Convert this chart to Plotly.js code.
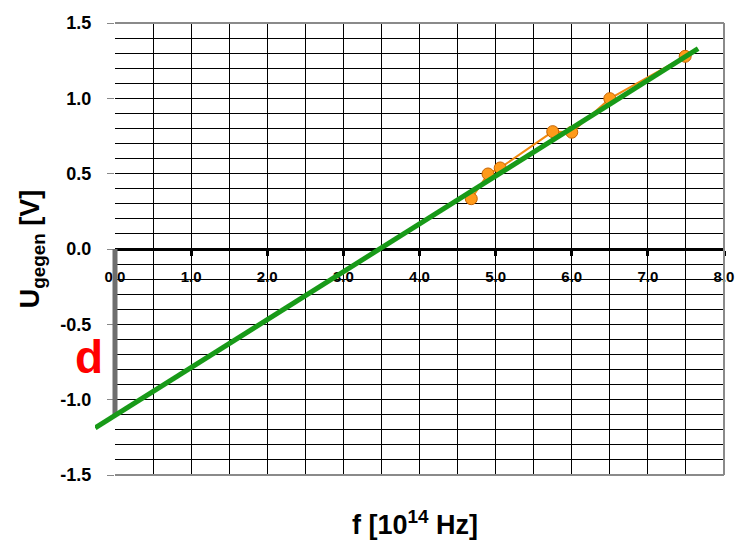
<!DOCTYPE html>
<html>
<head>
<meta charset="utf-8">
<script src="https://cdn.plot.ly/plotly-3.0.1.min.js"></script>
<style>html,body{margin:0;padding:0;background:#fff;}</style>
</head>
<body>
<div id="chart" style="width:749px;height:548px;"></div>
<script>
// Measured points: frequency [10^14 Hz] and stopping voltage [V]
const freq = [4.68, 4.90, 5.06, 5.75, 6.00, 6.50, 7.49];
const uGegen = [0.334, 0.498, 0.538, 0.779, 0.775, 0.998, 1.279];
// Fitted regression line end points
const fitX = [-0.26, 7.66];
const fitY = [-1.187, 1.33];
// Intercept marker "d"
const interceptX = [0, 0];
const interceptY = [0, -1.10];
const xTickVals = [0, 1, 2, 3, 4, 5, 6, 7, 8];
const xTickText = ['0.0', '1.0', '2.0', '3.0', '4.0', '5.0', '6.0', '7.0', '8.0'];
const yTickVals = [-1.5, -1.0, -0.5, 0.0, 0.5, 1.0, 1.5];
const yTickText = ['-1.5', '-1.0', '-0.5', '0.0', '0.5', '1.0', '1.5'];

const FONT = 'Arial, "Liberation Sans", sans-serif';
const W = 749, H = 548, ML = 95, MR = 25, MT = 23, MB = 73;
const plotW = W - ML - MR;
const shift = 20; // px the main x-axis starts to the right of the free area
const xDomStart = shift / plotW;
const pxPerUnit = (plotW - shift) / 8;

const traces = [
  {
    x: freq, y: uGegen, type: 'scatter', mode: 'lines+markers',
    line: {color: '#f08a10', width: 2},
    marker: {color: '#ff9a1a', size: 12, line: {color: '#c86400', width: 1}},
    xaxis: 'x', yaxis: 'y', hoverinfo: 'x+y'
  },
  {
    x: interceptX, y: interceptY, type: 'scatter', mode: 'lines',
    line: {color: '#6e6e6e', width: 5},
    xaxis: 'x2', yaxis: 'y2', hoverinfo: 'skip'
  },
  {
    x: fitX, y: fitY, type: 'scatter', mode: 'lines',
    line: {color: '#189a18', width: 5},
    xaxis: 'x2', yaxis: 'y2', hoverinfo: 'skip'
  }
];

const borderLine = {color: '#8a8a8a', width: 2};

const layout = {
  width: W, height: H,
  margin: {l: ML, r: MR, t: MT, b: MB, pad: 0},
  paper_bgcolor: '#ffffff',
  plot_bgcolor: 'rgba(0,0,0,0)',
  showlegend: false,
  font: {family: FONT, color: '#000'},
  xaxis: {
    domain: [xDomStart, 1],
    range: [0, 8],
    anchor: 'free', position: 0.5,
    tickmode: 'array', tickvals: xTickVals, ticktext: xTickText,
    tickfont: {family: FONT, size: 15, weight: 'bold', color: '#000'},
    ticks: 'outside', ticklen: 5, tickwidth: 3, tickcolor: '#000',
    ticklabelstandoff: 8,
    showline: true, linecolor: '#000', linewidth: 3,
    showgrid: true, gridcolor: '#000', gridwidth: 1,
    minor: {dtick: 0.5, tick0: 0, showgrid: true, gridcolor: '#000', gridwidth: 1},
    zeroline: false, fixedrange: true
  },
  yaxis: {
    domain: [0, 1],
    range: [-1.5, 1.5],
    anchor: 'x',
    tickmode: 'array', tickvals: yTickVals, ticktext: yTickText,
    tickfont: {family: FONT, size: 18, weight: 'bold', color: '#000'},
    ticks: 'outside', ticklen: 7, tickwidth: 1, tickcolor: '#888',
    ticklabelstandoff: 12,
    showline: false,
    showgrid: true, gridcolor: '#000', gridwidth: 1,
    minor: {dtick: 0.1, tick0: 0, showgrid: true, gridcolor: '#000', gridwidth: 1},
    zeroline: false, fixedrange: true,
    title: {
      text: 'U<sub>gegen</sub> [V]',
      font: {family: FONT, size: 27, weight: 'bold', color: '#000'},
      standoff: 12
    }
  },
  xaxis2: {
    domain: [0, 1],
    range: [-shift / pxPerUnit, 8],
    anchor: 'y2', visible: false, showgrid: false, zeroline: false, fixedrange: true
  },
  yaxis2: {
    domain: [0, 1],
    range: [-1.5, 1.5],
    anchor: 'x2', visible: false, showgrid: false, zeroline: false, fixedrange: true
  },
  shapes: [
    {type: 'line', xref: 'x domain', yref: 'y domain', x0: 0, x1: 1, y0: 1, y1: 1, line: borderLine, layer: 'above'},
    {type: 'line', xref: 'x domain', yref: 'y domain', x0: 0, x1: 1, y0: 0, y1: 0, line: borderLine, layer: 'above'},
    {type: 'line', xref: 'x domain', yref: 'y domain', x0: 1, x1: 1, y0: 0, y1: 1, line: borderLine, layer: 'above'}
  ],
  annotations: [
    {
      text: 'f [10<sup>14</sup> Hz]', xref: 'paper', yref: 'paper',
      x: (415 - ML) / plotW, y: -(523 - (H - MB)) / (H - MT - MB),
      xanchor: 'center', yanchor: 'middle', showarrow: false,
      font: {family: FONT, size: 27, weight: 'bold', color: '#000'}
    },
    {
      text: 'd', xref: 'x', yref: 'y', x: 0, y: -0.70,
      xanchor: 'right', yanchor: 'middle', xshift: -10, yshift: -3, showarrow: false,
      font: {family: FONT, size: 46, weight: 'bold', color: '#ff0000'}
    }
  ]
};

Plotly.newPlot('chart', traces, layout, {displayModeBar: false, staticPlot: true});
</script>
</body>
</html>
